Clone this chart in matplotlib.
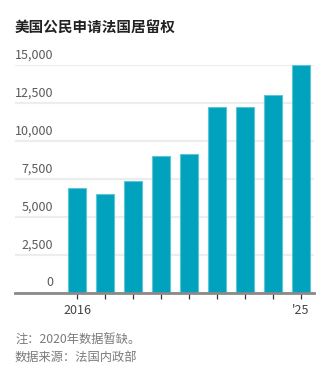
import matplotlib.pyplot as plt
import matplotlib.transforms as mtransforms

plt.rcParams['font.family'] = ['Noto Sans CJK SC', 'DejaVu Sans']

# 美国公民申请法国居留权（2020年缺数据）
years = ['2016', '2017', '2018', '2019', '2021', '2022', '2023', '2024', '2025']
counts = [6900, 6500, 7370, 9010, 9120, 12260, 12260, 13050, 14980]
tick_labels = ['2016', '', '', '', '', '', '', '', "'25"]
y_ticks = [0, 2500, 5000, 7500, 10000, 12500, 15000]

W, H = 329, 385
fig = plt.figure(figsize=(W / 100, H / 100), dpi=100)
ax = fig.add_axes([15 / W, 1 - 293 / H, 299 / W, 228 / H])

x = list(range(len(years)))
ax.bar(x, counts, width=0.63, color='#00a2bd', edgecolor='#5cc6d6',
       linewidth=0.8, zorder=3, clip_on=False)

ax.set_xlim(-2.214, 8.464)
ax.set_ylim(0, 15000)

# 网格线和纵轴数字
ax.set_yticks(y_ticks)
ax.yaxis.grid(True, color='#ededed', linewidth=1.6, zorder=0)
ax.tick_params(axis='y', length=0, labelleft=False)
trans = mtransforms.blended_transform_factory(ax.transAxes, ax.transData)
for v in y_ticks:
    ax.text(0.128, v + 250, f'{v:,}', transform=trans, ha='right', va='bottom',
            fontsize=9, color='#5a5a5a')

ax.set_xticks(x)
ax.set_xticklabels(tick_labels, fontsize=9, color='#444444')
ax.tick_params(axis='x', length=4, width=0.9, color='#333333', pad=4)

for side in ['top', 'right', 'left']:
    ax.spines[side].set_visible(False)
ax.spines['bottom'].set_color('#8a8a8a')
ax.spines['bottom'].set_linewidth(2)
ax.spines['bottom'].set_zorder(4)

fig.text(15 / W, 1 - 28 / H, '美国公民申请法国居留权', fontsize=10.5,
         fontweight='bold', color='#222222', va='center', ha='left')
fig.text(15 / W, 1 - 340 / H, '注：2020年数据暂缺。', fontsize=8.8,
         color='#7a7a7a', va='center', ha='left')
fig.text(15 / W, 1 - 357 / H, '数据来源：法国内政部', fontsize=8.8,
         color='#7a7a7a', va='center', ha='left')

fig.savefig('out.png', dpi=100)
